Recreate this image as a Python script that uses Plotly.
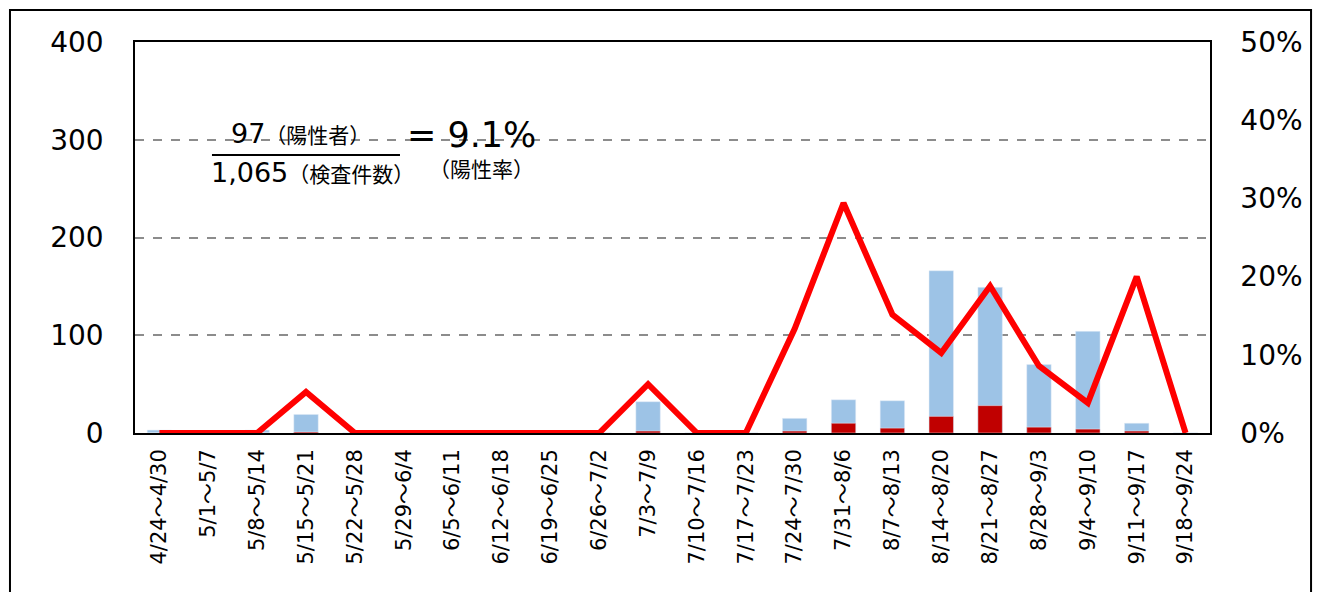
import plotly.graph_objects as go

# Weekly test counts, positives and the resulting positive rate
weeks = ["4/24～4/30", "5/1～5/7", "5/8～5/14", "5/15～5/21", "5/22～5/28",
         "5/29～6/4", "6/5～6/11", "6/12～6/18", "6/19～6/25", "6/26～7/2",
         "7/3～7/9", "7/10～7/16", "7/17～7/23", "7/24～7/30", "7/31～8/6",
         "8/7～8/13", "8/14～8/20", "8/21～8/27", "8/28～9/3", "9/4～9/10",
         "9/11～9/17", "9/18～9/24"]
tests = [3, 0, 3, 19, 0, 0, 0, 0, 0, 0, 32, 0, 0, 15, 34, 33, 166, 149, 70, 104, 10, 0]
positives = [0, 0, 0, 1, 0, 0, 0, 0, 0, 0, 2, 0, 0, 2, 10, 5, 17, 28, 6, 4, 2, 0]
rate = [p / t if t else 0.0 for p, t in zip(positives, tests)]

left_ticks = [0, 100, 200, 300, 400]
right_ticks = [0, 0.1, 0.2, 0.3, 0.4, 0.5]

FONT = "Verdana, DejaVu Sans, Noto Sans CJK JP, sans-serif"
JP = "Noto Sans CJK JP"

# Week labels with the wave dash set in the CJK face
week_text = [w.replace("～", "<span style='font-family:Noto Sans CJK JP'>～</span>")
             for w in weeks]

fig = go.Figure()
fig.add_trace(go.Bar(x=weeks, y=tests, marker_color="#9DC3E6", width=0.5,
                     name="検査件数"))
fig.add_trace(go.Bar(x=weeks, y=positives, marker_color="#C00000", width=0.5,
                     name="陽性者"))
fig.add_trace(go.Scatter(x=weeks, y=rate, yaxis="y2", mode="lines",
                         line=dict(color="#FF0000", width=6), name="陽性率"))

fig.update_layout(
    width=1317, height=592,
    margin=dict(l=135, r=107, t=42, b=159, autoexpand=False),
    paper_bgcolor="white", plot_bgcolor="white",
    barmode="overlay", showlegend=False,
    font=dict(family=FONT, color="#000000"),
    xaxis=dict(tickangle=-90, tickfont=dict(size=21, family=FONT),
               tickmode="array", tickvals=weeks, ticktext=week_text,
               showline=True, linecolor="#000000", linewidth=1.5, mirror=True,
               ticks="", showgrid=False, ticklabelstandoff=6, automargin=False),
    yaxis=dict(range=[0, 400], tickvals=left_ticks, tickfont=dict(size=28),
               showgrid=True, gridcolor="#8C8C8C", griddash="dash", gridwidth=1.5,
               showline=True, linecolor="#000000", linewidth=1.5,
               zeroline=False, ticks="", ticklabelstandoff=24, automargin=False),
    yaxis2=dict(range=[0, 0.5], tickvals=right_ticks, tickformat=".0%",
                tickfont=dict(size=28), overlaying="y", side="right",
                showgrid=False, showline=True, linecolor="#000000", linewidth=1.5,
                zeroline=False, ticks="", ticklabelstandoff=23, automargin=False),
)

# Outer frame around the whole chart
fig.add_shape(type="rect", xref="paper", yref="paper",
              x0=-0.1163, x1=1.0940, y0=-0.6, y1=1.0818,
              line=dict(color="#000000", width=2), layer="below")

# Overall positive-rate formula
jp = "<span style='font-size:21px;font-family:Noto Sans CJK JP'>{}</span>"
fig.add_annotation(xref="paper", yref="paper", x=0.1544, y=0.767,
                   text="97" + jp.format("（陽性者）"),
                   showarrow=False, font=dict(size=27, family=FONT),
                   xanchor="center", yanchor="middle")
fig.add_annotation(xref="paper", yref="paper", x=0.1647, y=0.6675,
                   text="1,065" + jp.format("（検査件数）"),
                   showarrow=False, font=dict(size=27, family=FONT),
                   xanchor="center", yanchor="middle")
fig.add_shape(type="line", xref="paper", yref="paper",
              x0=0.0716, x1=0.2465, y0=0.711, y1=0.711,
              line=dict(color="#000000", width=2))
fig.add_annotation(xref="paper", yref="paper", x=0.2512, y=0.762,
                   text="= 9.1%", showarrow=False, font=dict(size=35, family=FONT),
                   xanchor="left", yanchor="middle")
fig.add_annotation(xref="paper", yref="paper", x=0.3219, y=0.678,
                   text=jp.format("（陽性率）"), showarrow=False,
                   font=dict(size=21, family=JP),
                   xanchor="center", yanchor="middle")

fig.write_html("out.html")
